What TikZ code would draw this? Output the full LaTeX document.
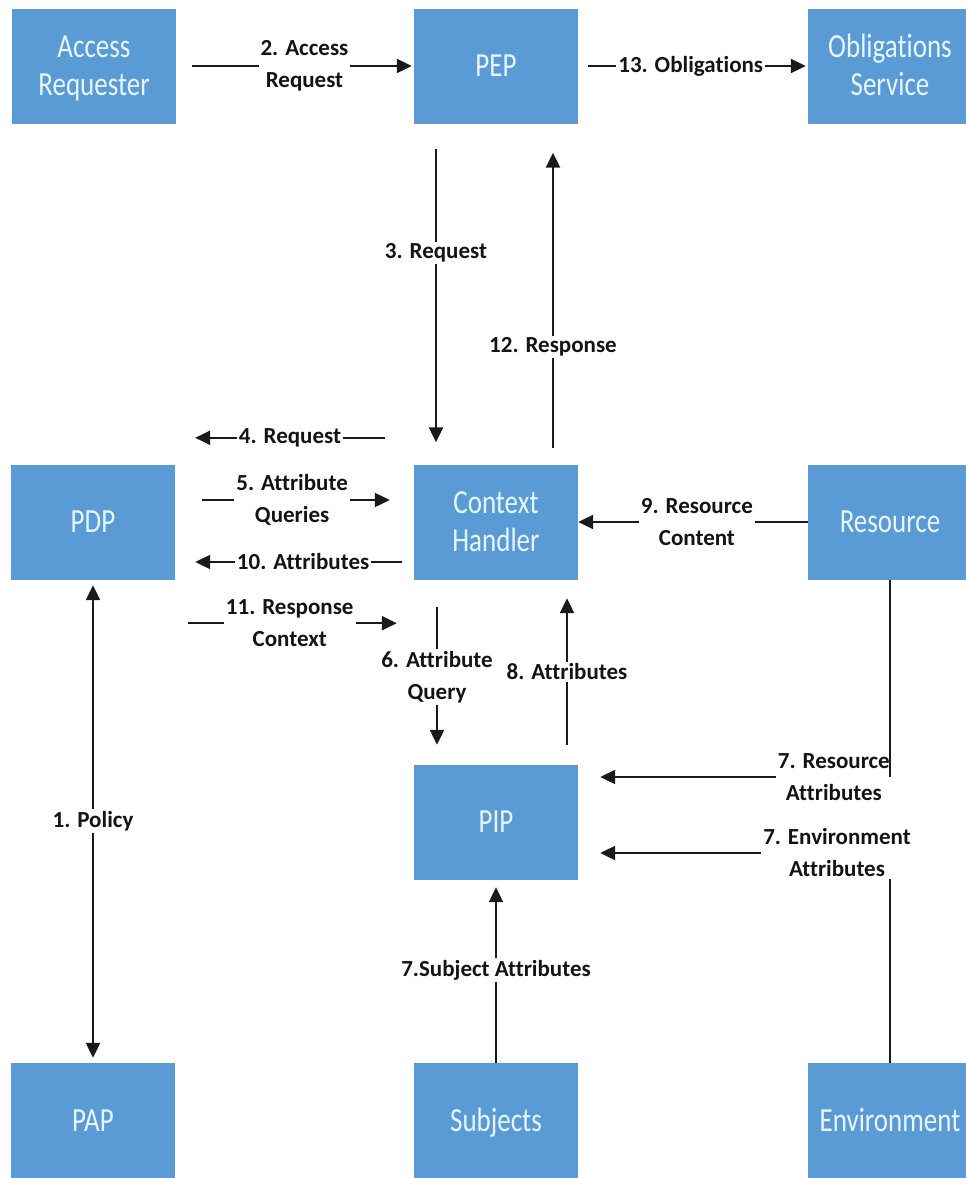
\documentclass[tikz,border=0pt]{standalone}
\usepackage{fontspec}
\usepackage{graphicx}
\setmainfont{Carlito}[Ligatures={NoCommon}]
\usetikzlibrary{arrows.meta}
\definecolor{boxblue}{HTML}{5B9BD5}
\definecolor{boxtext}{HTML}{E6F6FF}
\definecolor{linecol}{HTML}{1A1A1A}
\newcommand\tallbox[1]{\raisebox{-3pt}[\height][\depth]{\scalebox{1}[1.25]{\begin{tabular}{@{}c@{}}#1\end{tabular}}}}
\begin{document}
\begin{tikzpicture}[x=1pt,y=-1pt,
  box/.style={fill=boxblue, draw=none, minimum width=164pt, minimum height=115pt,
    text=boxtext, font=\fontsize{27}{30}\selectfont, align=center, inner sep=0pt},
  lbl/.style={fill=white, text=black!92, font=\fontsize{23}{32}\selectfont\bfseries, align=center, inner sep=2pt},
  ln/.style={line width=2.2pt, draw=linecol},
  arr/.style={ln, -{Triangle[length=15pt,width=14pt]}},
  dbl/.style={ln, {Triangle[length=15pt,width=14pt]}-{Triangle[length=15pt,width=14pt]}}]
\useasboundingbox (0,0) rectangle (966,1178);
% boxes
\node[box] (AR)  at (94,66)    {\tallbox{Access\\Requester}};
\node[box] (PEP) at (496,66)   {\tallbox{PEP}};
\node[box] (OS)  at (890,66)   {\tallbox{Obligations\\Service}};
\node[box] (PDP) at (93,522)   {\tallbox{PDP}};
\node[box] (CH)  at (496,522)  {\tallbox{Context\\Handler}};
\node[box] (RES) at (890,522)  {\tallbox{Resource}};
\node[box] (PIP) at (496,822)  {\tallbox{PIP}};
\node[box] (PAP) at (93,1120.5) {\tallbox{PAP}};
\node[box] (SUB) at (496,1120.5){\tallbox{Subjects}};
\node[box] (ENV) at (890,1120.5){\tallbox{Environment}};
% top row
\draw[arr, shorten <=16pt, shorten >=2pt] (AR.east) -- node[lbl, pos=0.54] {2. Access\\Request} (PEP.west);
\draw[arr, shorten <=10pt, shorten >=2pt] (PEP.east) -- node[lbl, pos=0.49] {13. Obligations} (OS.west);
% PEP <-> Context handler
\draw[arr, shorten <=25pt, shorten >=22pt] ([xshift=-60pt]PEP.south) -- node[lbl, pos=0.38] {3. Request} ([xshift=-60pt]CH.north);
\draw[arr, shorten <=16pt, shorten >=29pt] ([xshift=57pt]CH.north) -- node[lbl, pos=0.344] {12. Response} ([xshift=57pt]PEP.south);
% PDP <-> Context handler
\draw[arr] ([xshift=-29pt,yshift=26.5pt]CH.north west) -- node[lbl, pos=0.5] {4. Request} ([xshift=20pt,yshift=26.5pt]PDP.north east);
\draw[arr, shorten <=27pt, shorten >=24pt] ([yshift=22pt]PDP.east) -- node[lbl, pos=0.49] {5. Attribute\\Queries} ([yshift=22pt]CH.west);
\draw[arr, shorten <=12pt, shorten >=20pt] ([yshift=-40pt]CH.west) -- node[lbl, pos=0.464] {10. Attributes} ([yshift=-40pt]PDP.east);
\draw[arr, shorten <=13pt, shorten >=17pt] ([yshift=-43.5pt]PDP.south east) -- node[lbl, pos=0.48] {11. Response\\Context} ([yshift=-43.5pt]CH.south west);
% Context handler <-> PIP
\draw[arr, shorten <=27.5pt, shorten >=19.5pt] ([xshift=-59pt]CH.south) -- node[lbl, pos=0.527] {6. Attribute\\Query} ([xshift=-59pt]PIP.north);
\draw[arr, shorten <=19.5pt, shorten >=18.5pt] ([xshift=71pt]PIP.north) -- node[lbl, pos=0.5] {8. Attributes} ([xshift=71pt]CH.south);
% Resource -> Context handler
\draw[arr] (RES.west) -- node[lbl, pos=0.483] {9. Resource\\Content} (CH.east);
% Resource / Environment -> PIP
\coordinate (r7) at (890,777);
\coordinate (e7) at (890,853);
\draw[arr, shorten >=22pt] (r7) -- node[lbl, pos=0.18] {7. Resource\\Attributes} (r7 -| PIP.east);
\draw[ln] (RES.south) -- (r7);
\draw[ln] (ENV.north) -- (e7);
\draw[arr, shorten >=22pt] (e7) -- node[lbl, pos=0.17] {7. Environment\\Attributes} (e7 -| PIP.east);
% Subjects -> PIP
\draw[arr, shorten >=7.5pt] (SUB.north) -- node[lbl, pos=0.507] {7.Subject Attributes} (PIP.south);
% PDP <-> PAP
\draw[dbl, shorten <=5.5pt, shorten >=5pt] (PDP.south) -- node[lbl] {1. Policy} (PAP.north);
\end{tikzpicture}
\end{document}
